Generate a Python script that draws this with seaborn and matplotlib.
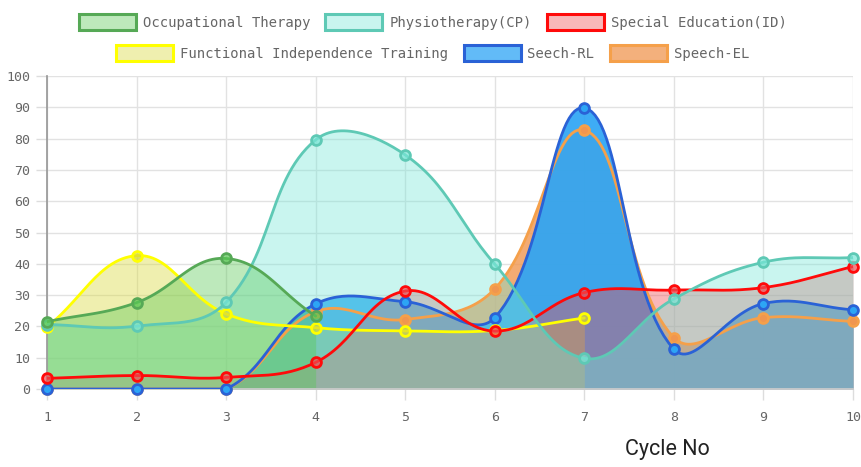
import numpy as np
import pandas as pd
import seaborn as sns
import matplotlib as mat

mat.use("Agg")

import matplotlib.pyplot as plt
from matplotlib.patches import Patch


cycles = [1, 2, 3, 4, 5, 6, 7, 8, 9, 10]
series_names = [
    "Occupational Therapy",
    "Physiotherapy(CP)",
    "Special Education(ID)",
    "Functional Independence Training",
    "Seech-RL",
    "Speech-EL",
]
occupational = [21.5, 27.6, 41.7, 23.3, None, None, None, None, None, None]
physio = [20.6, 20.1, 27.7, 79.6, 74.8, 39.9, 9.8, 28.8, 40.5, 42.0]
special_ed = [3.4, 4.3, 3.7, 8.5, 31.3, 18.5, 30.8, 31.6, 32.4, 39.1]
functional = [19.8, 42.6, 24.0, 19.6, 18.6, 18.7, 22.7, None, None, None]
seech_rl = [0, 0, 0, 27.2, 27.9, 22.8, 89.8, 12.7, 27.3, 25.3]
speech_el = [0, 0, 0, 24.7, 22.2, 32.0, 82.7, 16.4, 22.8, 21.6]

line_colors = ["#56a956", "#5ec9b5", "#ff0a0a", "#ffff00", "#2a62d6", "#f5a04a"]
fill_bases = [(90, 200, 85), (120, 230, 215), (240, 77, 82),
              (217, 217, 57), (45, 165, 245), (240, 150, 80)]
fill_alphas = [0.4, 0.4, 0.4, 0.4, 0.92, 0.8]

W, H = 862, 467
X_PX = 806 / 9   # pixels per cycle
Y_PX = 313 / 100  # pixels per unit


def curva_suave(xs, ys, tension=0.4, passos=30):
    # bezier igual ao Chart.js, calculado em pixels
    px = np.array(xs, dtype=float) * X_PX
    py = np.array(ys, dtype=float) * Y_PX
    n = len(px)
    cp_prev = np.zeros((n, 2))
    cp_next = np.zeros((n, 2))
    for i in range(n):
        a = max(i - 1, 0)
        b = min(i + 1, n - 1)
        d01 = np.hypot(px[i] - px[a], py[i] - py[a])
        d12 = np.hypot(px[b] - px[i], py[b] - py[i])
        tot = d01 + d12
        s01 = d01 / tot if tot else 0
        s12 = d12 / tot if tot else 0
        fa, fb = tension * s01, tension * s12
        dx, dy = px[b] - px[a], py[b] - py[a]
        cp_prev[i] = (px[i] - fa * dx, py[i] - fa * dy)
        cp_next[i] = (px[i] + fb * dx, py[i] + fb * dy)
    lo, hi = 0, 100 * Y_PX
    cp_prev[:, 1] = np.clip(cp_prev[:, 1], lo, hi)
    cp_next[:, 1] = np.clip(cp_next[:, 1], lo, hi)
    t = np.linspace(0, 1, passos)[:, None]
    pedacos = []
    for i in range(n - 1):
        p0 = np.array([px[i], py[i]])
        p3 = np.array([px[i + 1], py[i + 1]])
        seg = ((1 - t) ** 3) * p0 + 3 * ((1 - t) ** 2) * t * cp_next[i] \
            + 3 * (1 - t) * t ** 2 * cp_prev[i + 1] + t ** 3 * p3
        pedacos.append(seg if i == 0 else seg[1:])
    curva = np.vstack(pedacos)
    return curva[:, 0] / X_PX, curva[:, 1] / Y_PX


def rgba(base, alpha):
    return (base[0] / 255, base[1] / 255, base[2] / 255, alpha)


def main() -> None:
    sns.set_theme(style="whitegrid")
    plt.rcParams["font.family"] = ["DejaVu Sans Mono", "DejaVu Sans"]

    all_series = [occupational, physio, special_ed, functional, seech_rl, speech_el]
    rows = []
    for name, vals in zip(series_names, all_series):
        for c, v in zip(cycles, vals):
            if v is not None:
                rows.append({"serie": name, "cycle": c, "valor": v})
    df = pd.DataFrame(rows)

    fig = plt.figure(figsize=(W / 100, H / 100), dpi=100)
    ax = fig.add_axes([47 / W, 78 / H, 806 / W, 313 / H])

    # Chart.js desenha o primeiro dataset por cima
    ordem = list(range(len(series_names)))[::-1]
    for k, idx in enumerate(ordem):
        name = series_names[idx]
        sub = df[df["serie"] == name]
        cx, cy = curva_suave(sub["cycle"].values, sub["valor"].values)
        ax.fill_between(cx, 0, cy, color=rgba(fill_bases[idx], fill_alphas[idx]),
                        linewidth=0, zorder=2 + k * 0.1)
    for k, idx in enumerate(ordem):
        name = series_names[idx]
        sub = df[df["serie"] == name]
        cx, cy = curva_suave(sub["cycle"].values, sub["valor"].values)
        curve_df = pd.DataFrame({"x": cx, "y": cy})
        sns.lineplot(data=curve_df, x="x", y="y", ax=ax, color=line_colors[idx],
                     linewidth=2.0, sort=False, estimator=None, zorder=5 + k)
        face = rgba(fill_bases[idx], min(1, fill_alphas[idx] + 0.3))
        sns.scatterplot(data=sub, x="cycle", y="valor", ax=ax, s=50,
                        color=face, edgecolor=line_colors[idx], linewidth=2,
                        zorder=5.5 + k, clip_on=False, legend=False)

    ax.set_xlim(1, 10)
    ax.set_ylim(0, 100)
    ax.set_xticks(cycles)
    ax.set_yticks(range(0, 101, 10))
    ax.set_xlabel("")
    ax.set_ylabel("")
    ax.grid(True, color="#e2e2e2", linewidth=1)
    ax.set_facecolor("white")
    for lado in ["top", "right"]:
        ax.spines[lado].set_visible(False)
    ax.spines["left"].set_color("#999999")
    ax.spines["bottom"].set_color("#cccccc")
    ax.tick_params(axis="both", length=8, color="#dddddd", labelcolor="#666666",
                   labelsize=9.5, width=1)
    ax.tick_params(axis="x", pad=8, bottom=True)
    ax.tick_params(axis="y", pad=4, left=True)

    handles = [
        Patch(facecolor=rgba(fill_bases[i], fill_alphas[i] if i < 4 else 0.75),
              edgecolor=line_colors[i], linewidth=2.2, label=series_names[i])
        for i in range(len(series_names))
    ]
    estilo = dict(frameon=False, loc="center", ncol=3, fontsize=10,
                  handlelength=4.1, handleheight=1.3, handletextpad=0.5,
                  columnspacing=1.1, labelcolor="#666666")
    fig.legend(handles=handles[:3], bbox_to_anchor=(0.502, 1 - 22 / H), **estilo)
    fig.legend(handles=handles[3:], bbox_to_anchor=(0.502, 1 - 53 / H), **estilo)

    fig.text(667 / W, 1 - 450 / H, "Cycle No", ha="center", va="center",
             fontsize=15.5, family="Roboto", color="#222222")

    fig.savefig("out.png", dpi=100)
    plt.close(fig)


if __name__ == "__main__":
    main()
